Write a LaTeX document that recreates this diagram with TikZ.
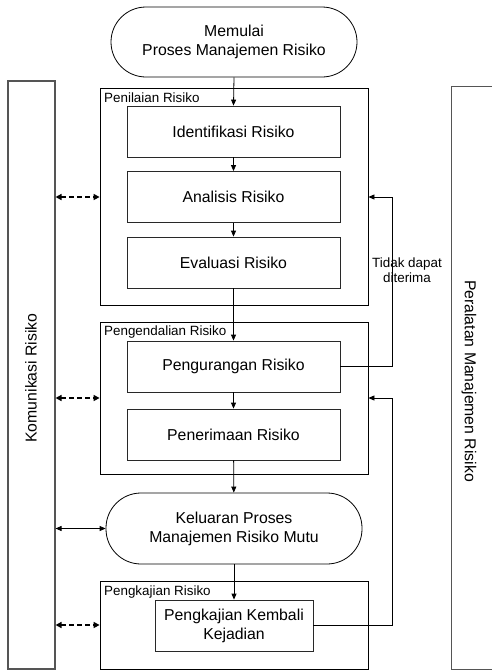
\documentclass[tikz,border=0pt]{standalone}
\usepackage{fontspec}
\setmainfont{Liberation Sans}
\usetikzlibrary{arrows.meta,positioning}
\definecolor{colgray}{RGB}{85,85,85}
\definecolor{boxgray}{RGB}{40,40,40}
\tikzset{
  txt/.style={font=\fontsize{15.8}{19}\selectfont, align=center},
  lbl/.style={font=\fontsize{13.4}{15}\selectfont, inner sep=0pt},
  stepbox/.style={draw=boxgray, line width=0.8pt, minimum width=213pt, minimum height=51pt, inner sep=0pt, txt},
  groupbox/.style={draw=black, line width=0.8pt, inner sep=0pt},
  term/.style={draw=black, line width=0.8pt, rounded corners=35pt, inner sep=0pt, txt},
  colbox/.style={draw=colgray, line width=1.1pt, inner sep=0pt},
  arr/.style={draw=black, line width=0.8pt, -{Triangle[length=6pt,width=5pt]}},
  darr/.style={draw=black, line width=1.5pt, dash pattern=on 5pt off 3pt,
     {Triangle[length=6pt,width=6pt]}-{Triangle[length=6pt,width=6pt]}},
  sarr/.style={draw=black, line width=0.8pt,
     {Triangle[length=6pt,width=5pt]}-{Triangle[length=6pt,width=5pt]}},
}
\begin{document}
\begin{tikzpicture}[x=1pt,y=-1pt]
\useasboundingbox (0,0) rectangle (492,670);
\clip (0,0) rectangle (492,670);
% side columns
\node[colbox, minimum width=47pt, minimum height=588pt] (kom) at (31.5,375) {};
\node[txt, rotate=90] (komt) at (31,378) {Komunikasi Risiko};
\node[colbox, minimum width=50pt, minimum height=583pt, anchor=north west] (tools) at (451,86) {};
\node[txt, rotate=-90] (toolst) at (469,381) {Peralatan Manajemen Risiko};
% groups
\node[groupbox, minimum width=268pt, minimum height=217pt] (g1) at (234,197) {};
\node[lbl, anchor=base west] (g1l) at (104,102) {Penilaian Risiko};
\node[groupbox, minimum width=268pt, minimum height=152pt] (g2) at (234,398) {};
\node[lbl, anchor=base west] (g2l) at (104,335.5) {Pengendalian Risiko};
\node[groupbox, minimum width=268pt, minimum height=88pt] (g3) at (234,625) {};
\node[lbl, anchor=base west] (g3l) at (104,595) {Pengkajian Risiko};
% terminators
\node[term, minimum width=246pt, minimum height=70pt] (start) at (234,42) {Memulai\\Proses Manajemen Risiko};
\node[term, minimum width=256pt, minimum height=71pt] (kel) at (234,528.5) {Keluaran Proses\\Manajemen Risiko Mutu};
% steps
\node[stepbox] (id) at (233.5,131.5) {Identifikasi Risiko};
\node[stepbox] (an) at (233.5,197) {Analisis Risiko};
\node[stepbox] (ev) at (233.5,262.5) {Evaluasi Risiko};
\node[stepbox] (red) at (233.5,366.5) {Pengurangan Risiko};
\node[stepbox] (acc) at (233.5,434.5) {Penerimaan Risiko};
\node[stepbox, minimum width=158pt] (kaji) at (234,625.5) {Pengkajian Kembali\\Kejadian};
% main flow
\draw[arr] (start.south) -- (id.north);
\draw[arr] (id) -- (an);
\draw[arr] (an) -- (ev);
\draw[arr] (ev) -- (red);
\draw[arr] (red) -- (acc);
\draw[arr] (acc) -- (kel);
\draw[arr] (kel) -- (kaji);
% feedback
\draw[arr] (red.east) -| ([xshift=24pt]g1.east) -- (g1.east);
\node[lbl, align=center] (tdd) at (407,270) {Tidak dapat\\diterima};
\draw[arr] (kaji.east) -| ([xshift=24pt]g2.east) -- (g2.east);
% communication
\draw[darr] (kom.east |- g1.west) -- (g1.west);
\draw[darr] (kom.east |- g2.west) -- (g2.west);
\draw[sarr] (kom.east |- kel.west) -- (kel.west);
\draw[darr] (kom.east |- g3.west) -- (g3.west);
\end{tikzpicture}
\end{document}
